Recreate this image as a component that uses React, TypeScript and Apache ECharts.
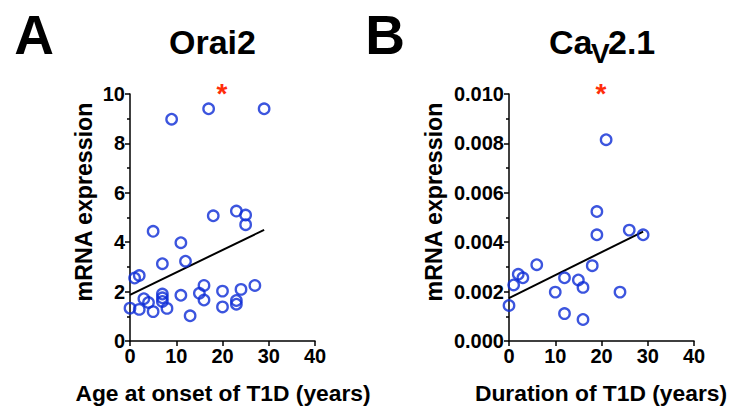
import React, { useEffect, useRef } from "react";
import * as echarts from "echarts";

const onsetAge = [9, 17, 29, 23, 18, 25, 25, 5, 11, 12, 7, 1, 2, 16, 27, 20, 24, 15, 7, 7, 7, 11, 3, 4, 16, 23, 23, 0, 2, 5, 8, 20, 13];
const orai2 = [8.98, 9.4, 9.4, 5.26, 5.07, 5.1, 4.71, 4.44, 3.98, 3.23, 3.13, 2.55, 2.65, 2.25, 2.25, 2.02, 2.09, 1.93, 1.9, 1.75, 1.6, 1.85, 1.71, 1.56, 1.66, 1.64, 1.49, 1.33, 1.28, 1.19, 1.32, 1.38, 1.02];
const orai2FitX = [0, 29];
const orai2FitY = [1.87, 4.5];

const duration = [21, 19, 19, 26, 29, 6, 18, 2, 3, 1, 12, 15, 16, 10, 24, 0, 12, 16];
const cav21 = [0.00815, 0.00524, 0.0043, 0.00449, 0.0043, 0.00309, 0.00305, 0.0027, 0.00256, 0.00227, 0.00256, 0.00247, 0.00217, 0.00198, 0.00198, 0.00144, 0.00111, 0.00087];
const cavFitX = [0, 29];
const cavFitY = [0.00174, 0.00443];

const xTicks = { min: 0, max: 40, interval: 10 };
const yTicksA = { min: 0, max: 10, interval: 2 };
const yTicksB = { min: 0, max: 0.01, interval: 0.002 };

const FONT = "'Liberation Sans', Arial, Helvetica, sans-serif";
const BLUE = "#0b2bd6";
const RED = "#ff2d0a";

export default function App() {
  const ref = useRef<HTMLDivElement>(null);
  useEffect(() => {
    if (!ref.current) return;
    const chart = echarts.init(ref.current, undefined, { renderer: "svg" });
    const axisLine = { show: true, lineStyle: { color: "#000", width: 1.5 } };
    const axisLabel = { color: "#000", fontSize: 20, fontWeight: "bold" as const, fontFamily: FONT, margin: 5 };
    const xAxisBase = (gridIndex: number) => ({
      type: "value" as const,
      gridIndex,
      ...xTicks,
      axisLine,
      axisTick: { show: true, length: 5, lineStyle: { color: "#000", width: 1.5 } },
      axisLabel: { ...axisLabel, margin: 5 },
      splitLine: { show: false },
    });
    const yAxisBase = (gridIndex: number, t: any, fmt?: (v: number) => string) => ({
      type: "value" as const,
      gridIndex,
      ...t,
      axisLine,
      axisTick: { show: true, length: 5, lineStyle: { color: "#000", width: 1.5 } },
      minorTick: { show: true, splitNumber: 2, length: 3, lineStyle: { color: "#000", width: 1.5 } },
      axisLabel: { ...axisLabel, formatter: fmt },
      splitLine: { show: false },
      minorSplitLine: { show: false },
    });
    const txt = (text: string, x: number, y: number, fontSize: number, extra: any = {}) => ({
      type: "text",
      x,
      y,
      ...extra,
      style: {
        text,
        fontSize,
        fontWeight: "bold",
        fontFamily: FONT,
        fill: extra.fill || "#000",
        align: extra.align || "center",
        verticalAlign: "middle",
      },
    });
    const scatterStyle = { color: "rgba(255,255,255,0)", borderColor: BLUE, borderWidth: 2.3 };
    chart.setOption({
      animation: false,
      grid: [
        { left: 130, top: 94, width: 185, height: 247 },
        { left: 509, top: 94, width: 185, height: 247 },
      ],
      xAxis: [xAxisBase(0), xAxisBase(1)],
      yAxis: [
        yAxisBase(0, yTicksA),
        yAxisBase(1, yTicksB, (v: number) => v.toFixed(3)),
      ],
      series: [
        {
          type: "line",
          xAxisIndex: 0,
          yAxisIndex: 0,
          data: orai2FitX.map((x, i) => [x, orai2FitY[i]]),
          showSymbol: false,
          lineStyle: { color: "#000", width: 2 },
          z: 1,
        },
        {
          type: "scatter",
          xAxisIndex: 0,
          yAxisIndex: 0,
          data: onsetAge.map((x, i) => [x, orai2[i]]),
          symbol: "circle",
          symbolSize: 10.5,
          itemStyle: scatterStyle,
          z: 2,
        },
        {
          type: "line",
          xAxisIndex: 1,
          yAxisIndex: 1,
          data: cavFitX.map((x, i) => [x, cavFitY[i]]),
          showSymbol: false,
          lineStyle: { color: "#000", width: 2 },
          z: 1,
        },
        {
          type: "scatter",
          xAxisIndex: 1,
          yAxisIndex: 1,
          data: duration.map((x, i) => [x, cav21[i]]),
          symbol: "circle",
          symbolSize: 10.5,
          itemStyle: scatterStyle,
          z: 2,
        },
      ],
      graphic: [
        txt("A", 34, 35, 55),
        txt("B", 385, 35, 55),
        txt("Orai2", 212.5, 42, 34),
        txt("Ca", 549, 42, 34, { align: "left" }),
        txt("V", 591, 53, 28, { align: "left" }),
        txt("2.1", 608, 42, 34, { align: "left" }),
        txt("*", 222, 93, 28, { fill: RED }),
        txt("*", 601, 93, 28, { fill: RED }),
        txt("mRNA expression", 84, 202, 23.2, { rotation: Math.PI / 2 }),
        txt("mRNA expression", 434, 202, 23.2, { rotation: Math.PI / 2 }),
        txt("Age at onset of T1D (years)", 223, 393, 22.8),
        txt("Duration of T1D (years)", 601, 393, 22.8),
      ],
    });
    return () => chart.dispose();
  }, []);
  return (
    <div
      ref={ref}
      style={{ position: "fixed", left: 0, top: 0, width: 729, height: 407, background: "#fff" }}
    />
  );
}
